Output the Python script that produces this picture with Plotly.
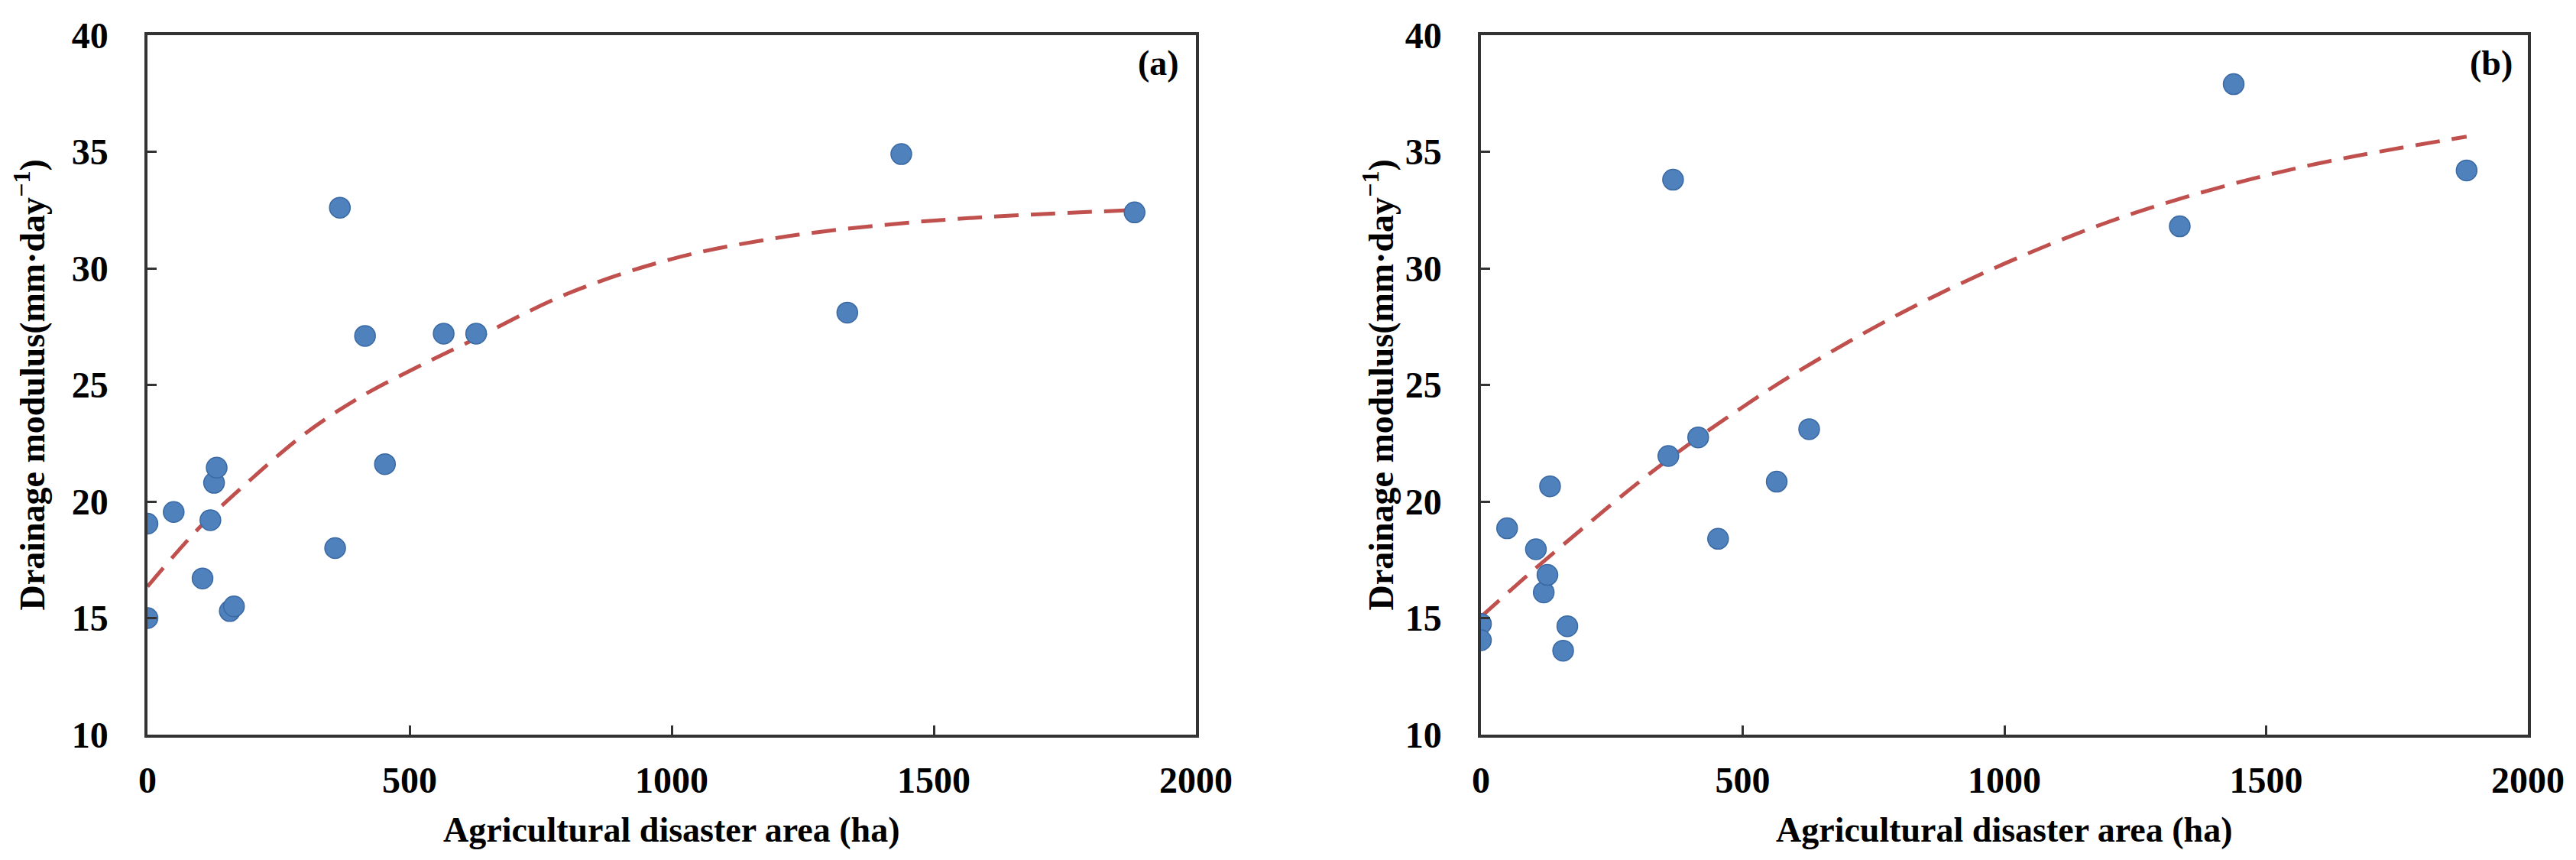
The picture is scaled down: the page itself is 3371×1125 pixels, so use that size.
import plotly.graph_objects as go

# agricultural disaster area (ha), shared by both panels
area = [0, 0, 50, 105, 120, 127, 132, 157, 165, 358, 367, 415, 453, 565, 627, 1335, 1438, 1883]

# drainage modulus (mm/day)
modulus_a = [19.05, 15.0, 19.55, 16.7, 19.2, 20.8, 21.45, 15.3, 15.5, 18.0,
             32.6, 27.1, 21.6, 27.2, 27.2, 28.1, 34.9, 32.4]
modulus_b = [14.75, 14.05, 18.85, 17.95, 16.1, 16.85, 20.65, 13.6, 14.65, 21.95,
             33.8, 22.75, 18.4, 20.85, 23.1, 31.8, 37.9, 34.2]

# trend curves
trend_x = [0, 100, 200, 300, 400, 500, 600, 800, 1000, 1200, 1400, 1600, 1883]
trend_a = [16.35, 18.9, 21.0, 22.9, 24.4, 25.6, 26.7, 28.9, 30.4, 31.3, 31.85, 32.2, 32.5]
trend_b = [15.05, 17.05, 18.95, 20.8, 22.5, 24.05, 25.5, 28.05, 30.2, 32.0, 33.4, 34.5, 35.65]

x_ticks = [0, 500, 1000, 1500, 2000]
y_ticks = [10, 15, 20, 25, 30, 35, 40]
panel_labels = ["(a)", "(b)"]

FONT = "Liberation Serif"
BLUE = "#4F81BD"
RED = "#C0504D"
AXIS = "#333333"

# the page body adds an 8 px offset; size the figure so it fits the window
OFF = 8
W, H = 3371 - OFF, 1125 - OFF


def fx(px):
    return (px - OFF) / W


def fy(py):
    return 1 - (py - OFF) / H


fig = go.Figure()

panels = [("x", "y", modulus_a, trend_a), ("x2", "y2", modulus_b, trend_b)]
for xa, ya, pts, trend in panels:
    fig.add_trace(go.Scatter(
        x=trend_x, y=trend, xaxis=xa, yaxis=ya, mode="lines",
        line={"color": RED, "width": 5, "dash": "32px,16px", "shape": "spline"},
        showlegend=False, hoverinfo="skip",
    ))
    fig.add_trace(go.Scatter(
        x=area, y=pts, xaxis=xa, yaxis=ya, mode="markers",
        marker={"color": BLUE, "size": 27, "line": {"color": "#3A69A3", "width": 1.5}},
        showlegend=False,
    ))

axis_common = dict(
    showgrid=False, zeroline=False, showline=True, mirror=True, automargin=False,
    linecolor=AXIS, linewidth=3.5, ticks="inside", ticklen=12, tickwidth=3,
    tickcolor=AXIS, tickfont={"family": FONT, "size": 48, "color": "black", "weight": "bold"},
)

x_domains = [[fx(193), fx(1565)], [fx(1938), fx(3308)]]
y_domain = [fy(961), fy(46)]

layout = dict(
    template="none", width=W, height=H,
    margin={"l": 0, "r": 0, "t": 0, "b": 0, "pad": 0, "autoexpand": False},
    paper_bgcolor="white", plot_bgcolor="white", showlegend=False,
)
for i, suffix in enumerate(["", "2"]):
    layout["xaxis" + suffix] = dict(
        axis_common, domain=x_domains[i], range=[0, 2000], tickvals=x_ticks,
        anchor="y" + suffix, ticklabelstandoff=15,
    )
    layout["yaxis" + suffix] = dict(
        axis_common, domain=y_domain, range=[10, 40], tickvals=y_ticks,
        anchor="x" + suffix, ticklabelstandoff=38,
    )
fig.update_layout(**layout)

title_font = {"family": FONT, "size": 46, "color": "black", "weight": "bold"}
x_title_centers = [879, 2623]
y_title_centers = [38, 1803]
label_right = [1545, 3290]
for i in range(2):
    fig.add_annotation(
        text="Agricultural disaster area (ha)", xref="paper", yref="paper",
        x=fx(x_title_centers[i]), y=fy(1085), xanchor="center", yanchor="middle",
        showarrow=False, font=title_font,
    )
    fig.add_annotation(
        text="Drainage modulus(mm·day<sup>−1</sup>)", xref="paper", yref="paper",
        x=fx(y_title_centers[i]), y=fy(503.5), xanchor="center", yanchor="middle",
        textangle=-90, showarrow=False, font=title_font,
    )
    fig.add_annotation(
        text=panel_labels[i], xref="paper", yref="paper", x=fx(label_right[i]),
        y=fy(83), xanchor="right", yanchor="middle", showarrow=False,
        font={"family": FONT, "size": 46, "color": "black", "weight": "bold"},
    )

fig.write_html("out.html")
